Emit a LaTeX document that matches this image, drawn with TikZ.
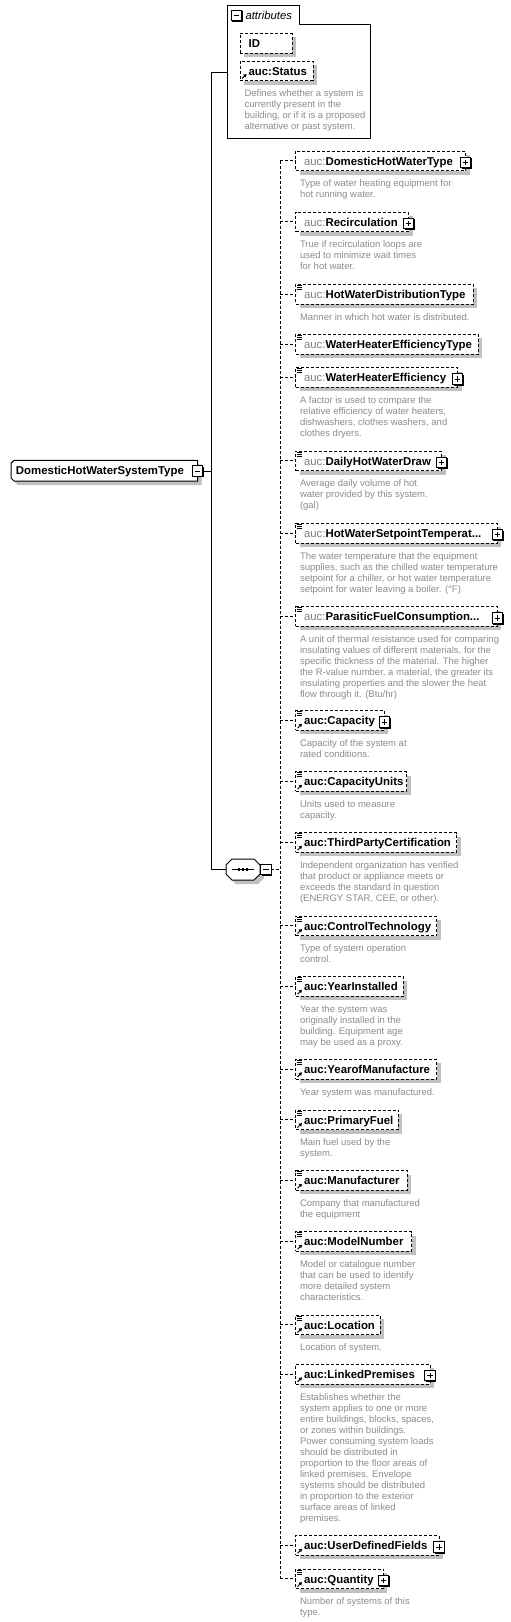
\documentclass[tikz,border=0pt]{standalone}
\usepackage{fontspec}
\setmainfont{Liberation Sans}
\usetikzlibrary{backgrounds,arrows.meta}
\definecolor{shd}{RGB}{192,192,192}
\definecolor{dsc}{RGB}{140,140,140}
\definecolor{pfx}{RGB}{128,128,128}
\newcommand\ttlfont{\fontsize{11.4}{13}\selectfont\bfseries}
\newcommand\dscfont{\fontsize{9.5}{11}\selectfont}
\newcommand\lp{{\mdseries\textcolor{pfx}{auc:}}}
\newcommand\elnode[5]{\pgfmathsetmacro\elw{#4-#2-16.6}\node[elbox] (#1) at (#2,#3) {\makebox[\elw pt][l]{#5}};
  \begin{pgfonlayer}{background}\fill[shd] ([shift={(4,4)}]#1.north west) rectangle ([shift={(4,4)}]#1.south east);\end{pgfonlayer}}
\newcommand\icolines[1]{\draw[icon] ([shift={(1.2,1.2)}]#1.north west) -- ++(5.5,0) ([shift={(1.2,3.2)}]#1.north west) -- ++(5,0) ([shift={(1.2,5.2)}]#1.north west) -- ++(5,0);}
\newcommand\icoref[1]{\draw[icon,-{Triangle[length=3pt,width=3.5pt]}] ([shift={(1.8,-2.2)}]#1.south west) -- ++(4.5,-4.5);}
\newcommand\icominus[1]{\draw[icon] ([xshift=2.5pt]#1.west) -- ([xshift=-2.5pt]#1.east);}
\newcommand\pmnode[2]{\node[pmbox] (#1) at (#2) {};
  \fill ([shift={(1.2,1.2)}]#1.north west) rectangle ([shift={(1.2,1.2)}]#1.south east);
  \draw[icon, fill=white] (#1.north west) rectangle (#1.south east);}
\newcommand\icoplus[2]{\pmnode{#1}{[yshift=-1.5pt]#2.east} \draw[icon] ([xshift=2.5pt]#1.west) -- ([xshift=-2.5pt]#1.east) ([yshift=2.5pt]#1.south) -- ([yshift=-2.5pt]#1.north);}
\newcommand\dsc[3]{\node[desc] (#1) at ([shift={(4.3,8.3)}]#2.south west) {\strut #3};}
\newcommand\mainshape[2]{([shift={(#1+3,#2)}]main.north west) -- ([shift={(#1,#2)}]main.north east) -- ([shift={(#1,#2)}]main.south east) -- ([shift={(#1+3,#2)}]main.south west) -- ([shift={(#1,#2-3)}]main.south west) -- ([shift={(#1,#2+3)}]main.north west) -- cycle}
\newcommand\seqshape[2]{([shift={(#1+6,#2)}]seq.north west) -- ([shift={(#1-6,#2)}]seq.north east) -- ([shift={(#1,#2+6)}]seq.north east) -- ([shift={(#1,#2-6)}]seq.south east) -- ([shift={(#1-6,#2)}]seq.south east) -- ([shift={(#1+6,#2)}]seq.south west) -- ([shift={(#1,#2-6)}]seq.south west) -- ([shift={(#1,#2+6)}]seq.north west) -- cycle}
\tikzset{
  every node/.style={inner sep=0pt, outer sep=0pt},
  conn/.style={line width=1pt},
  dconn/.style={line width=1pt, dash pattern=on 3pt off 2pt},
  icon/.style={line width=1pt, solid},
  elbox/.style={draw, line width=1pt, dash pattern=on 3pt off 2pt, fill=white, inner xsep=8.3pt, anchor=north west, minimum height=19.7pt, text height=9.8pt, text depth=1.5pt, font=\ttlfont},
  desc/.style={anchor=north west, align=left, font=\dscfont, text=dsc},
  pmbox/.style={minimum size=10.5pt},
}
\begin{document}
\begin{tikzpicture}[x=1pt,y=-1pt]
\useasboundingbox (0,0) rectangle (511,1622);
\begin{pgfonlayer}{background}
\fill[white] (0,0) rectangle (511,1622);
\end{pgfonlayer}
% attributes group
\node[minimum width=143.3, minimum height=132.7, anchor=north west] (attrs) at (227,5.3) {};
\draw[conn] (attrs.north west) -- ([xshift=72.3pt]attrs.north west) |- ([yshift=-19pt]attrs.north east) -- (attrs.south east) -- (attrs.south west) -- cycle;
\pmnode{am}{236.5,15.5} \icominus{am}
\node[anchor=base west, font=\fontsize{11.3}{13}\selectfont\itshape] (atl) at (245.5,19.5) {attributes};
\elnode{id}{240.3}{33.3}{292}{ID}
\elnode{st}{240.3}{61}{313}{auc:Status}
\icoref{st}
\dsc{sd}{st}{Defines whether a system is\\currently present in the\\building, or if it is a proposed\\alternative or past system.}
% main type
\node[anchor=north west, minimum width=186.5, minimum height=20.7, inner xsep=5pt, font=\ttlfont, text height=9.8pt, text depth=1.5pt] (main) at (11,460.3) {\makebox[176.5pt][l]{DomesticHotWaterSystemType}};
% sequence
\node[minimum width=34, minimum height=21, anchor=north west] (seq) at (226,859) {};
\begin{pgfonlayer}{background}
\fill[shd] \mainshape{4}{4};
\draw[conn, fill=white] \mainshape{0}{0};
\fill[shd] \seqshape{4}{4};
\draw[conn, fill=white] \seqshape{0}{0};
\end{pgfonlayer}
\pmnode{mm}{197.5,471} \icominus{mm}
\draw[conn] ([xshift=6pt]seq.west) -- ([xshift=-6pt]seq.east);
\foreach \d in {-4,0,4} \fill ([xshift=\d pt]seq.center) +(-1.3,-1.3) rectangle +(1.3,1.3);
\pmnode{sm}{266,869.5} \icominus{sm}
% children
\elnode{e1}{295.7}{151}{465.7}{\lp DomesticHotWaterType}
\icoplus{p1}{e1}
\dsc{d1}{e1}{Type of water heating equipment for\\hot running water.}
\elnode{e2}{295.7}{212}{408.7}{\lp Recirculation}
\icoplus{p2}{e2}
\dsc{d2}{e2}{True if recirculation loops are\\used to minimize wait times\\for hot water.}
\elnode{e3}{295.7}{284.3}{473.3}{\lp HotWaterDistributionType}
\icolines{e3}
\dsc{d3}{e3}{Manner in which hot water is distributed.}
\elnode{e4}{295.7}{334.3}{478.3}{\lp WaterHeaterEfficiencyType}
\icolines{e4}
\elnode{e5}{295.7}{367.7}{457.7}{\lp WaterHeaterEfficiency}
\icolines{e5}
\icoplus{p5}{e5}
\dsc{d5}{e5}{A factor is used to compare the\\relative efficiency of water heaters,\\dishwashers, clothes washers, and\\clothes dryers.}
\elnode{e6}{295.7}{451}{441.7}{\lp DailyHotWaterDraw}
\icolines{e6}
\icoplus{p6}{e6}
\dsc{d6}{e6}{Average daily volume of hot\\water provided by this system.\\(gal)}
\elnode{e7}{295.7}{523.3}{497.3}{\lp HotWaterSetpointTemperat...}
\icolines{e7}
\icoplus{p7}{e7}
\dsc{d7}{e7}{The water temperature that the equipment\\supplies, such as the chilled water temperature\\setpoint for a chiller, or hot water temperature\\setpoint for water leaving a boiler. (°F)}
\elnode{e8}{295.7}{606.7}{497.3}{\lp ParasiticFuelConsumption...}
\icolines{e8}
\icoplus{p8}{e8}
\dsc{d8}{e8}{A unit of thermal resistance used for comparing\\insulating values of different materials, for the\\specific thickness of the material. The higher\\the R-value number, a material, the greater its\\insulating properties and the slower the heat\\flow through it. (Btu/hr)}
\elnode{e9}{295.7}{710.7}{384.3}{auc:Capacity}
\icolines{e9}
\icoref{e9}
\icoplus{p9}{e9}
\dsc{d9}{e9}{Capacity of the system at\\rated conditions.}
\elnode{e10}{295.7}{771.7}{406.7}{auc:CapacityUnits}
\icolines{e10}
\icoref{e10}
\dsc{d10}{e10}{Units used to measure\\capacity.}
\elnode{e11}{295.7}{832.7}{456.7}{auc:ThirdPartyCertification}
\icolines{e11}
\icoref{e11}
\dsc{d11}{e11}{Independent organization has verified\\that product or appliance meets or\\exceeds the standard in question\\(ENERGY STAR, CEE, or other).}
\elnode{e12}{295.7}{916}{436.7}{auc:ControlTechnology}
\icolines{e12}
\icoref{e12}
\dsc{d12}{e12}{Type of system operation\\control.}
\elnode{e13}{295.7}{976.7}{403.3}{auc:YearInstalled}
\icolines{e13}
\icoref{e13}
\dsc{d13}{e13}{Year the system was\\originally installed in the\\building. Equipment age\\may be used as a proxy.}
\elnode{e14}{295.7}{1059.3}{436.7}{auc:YearofManufacture}
\icolines{e14}
\icoref{e14}
\dsc{d14}{e14}{Year system was manufactured.}
\elnode{e15}{295.7}{1110}{398.3}{auc:PrimaryFuel}
\icolines{e15}
\icoref{e15}
\dsc{d15}{e15}{Main fuel used by the\\system.}
\elnode{e16}{295.7}{1170.7}{407.3}{auc:Manufacturer}
\icolines{e16}
\icoref{e16}
\dsc{d16}{e16}{Company that manufactured\\the equipment}
\elnode{e17}{295.7}{1231.7}{411.7}{auc:ModelNumber}
\icolines{e17}
\icoref{e17}
\dsc{d17}{e17}{Model or catalogue number\\that can be used to identify\\more detailed system\\characteristics.}
\elnode{e18}{295.7}{1315}{380}{auc:Location}
\icolines{e18}
\icoref{e18}
\dsc{d18}{e18}{Location of system.}
\elnode{e19}{295.7}{1364.3}{430}{auc:LinkedPremises}
\icoref{e19}
\icoplus{p19}{e19}
\dsc{d19}{e19}{Establishes whether the\\system applies to one or more\\entire buildings, blocks, spaces,\\or zones within buildings.\\Power consuming system loads\\should be distributed in\\proportion to the floor areas of\\linked premises. Envelope\\systems should be distributed\\in proportion to the exterior\\surface areas of linked\\premises.}
\elnode{e20}{295.7}{1535.7}{439}{auc:UserDefinedFields}
\icoref{e20}
\icoplus{p20}{e20}
\elnode{e21}{295.7}{1569}{383.3}{auc:Quantity}
\icolines{e21}
\icoref{e21}
\icoplus{p21}{e21}
\dsc{d21}{e21}{Number of systems of this\\type.}
% connectors
\coordinate (tt) at (211.7,72);
\coordinate (tb) at (211.7,869.5);
\coordinate (dt) at (280.3,869.5);
\draw[conn] (attrs.west |- tt) -- (tt) -- (tb) -- (seq.west);
\draw[conn] (mm.east) -- (mm.east -| tt);
\draw[dconn] (sm.east) -- (dt);
\draw[dconn] (dt |- e1.west) -- (dt |- e21.west);
\foreach \i in {1,...,21} \draw[dconn] (dt |- e\i.west) -- (e\i.west);
\end{tikzpicture}
\end{document}
